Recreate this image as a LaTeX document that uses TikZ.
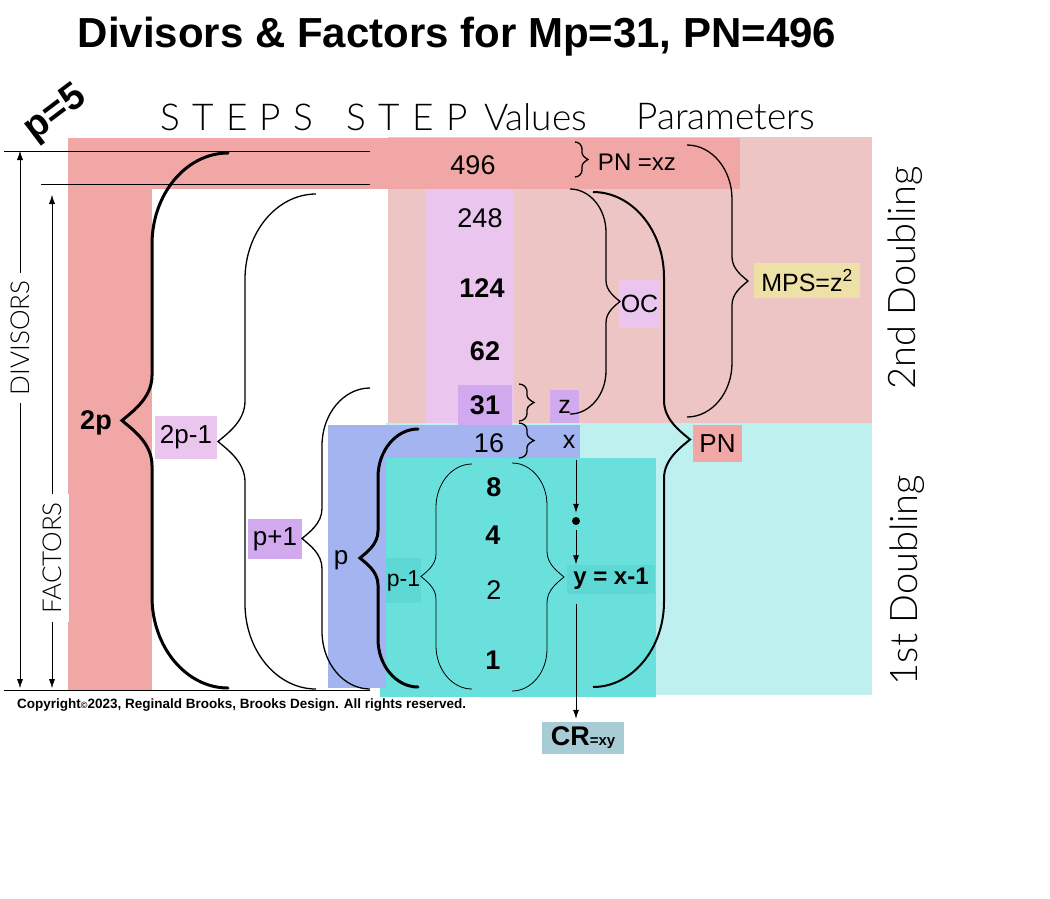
\documentclass[tikz,border=0pt]{standalone}
\usepackage{fontspec}
\setmainfont{Liberation Sans}
\newfontfamily\thinfont{Lato Light}
\usetikzlibrary{shapes,arrows.meta}

\definecolor{redband}{HTML}{F2A7A7}
\definecolor{pinkbg}{HTML}{EDC5C5}
\definecolor{cyanbg}{HTML}{BDF0EE}
\definecolor{lilac}{HTML}{EAC5EE}
\definecolor{violetbox}{HTML}{D1A9EE}
\definecolor{bluebox}{HTML}{A3B4F0}
\definecolor{tealbox}{HTML}{6AE0DC}
\definecolor{tealdark}{HTML}{5DD8D4}
\definecolor{yellowbox}{HTML}{EDE1A8}
\definecolor{crbox}{HTML}{A8CCD6}

% letter spacing for the headers
\newcommand{\ls}{\hspace{0.33em}}

% curly brace: [style] {end x}{top y}{bottom y}{spine x}{tip x}
\newcommand{\curlybrace}[6][]{%
  \pgfmathsetmacro{\bym}{(#3+#4)/2}%
  \pgfmathsetmacro{\bh}{(#4-#3)/2}%
  \pgfmathsetmacro{\bc}{min(1.2*abs(#2-#5),0.4*\bh)}%
  \pgfmathsetmacro{\bd}{min(1.5*abs(#5-#6),0.4*\bh)}%
  \pgfmathsetmacro{\bxa}{#2-0.55*(#2-#5)}%
  \pgfmathsetmacro{\bxb}{#6+0.35*(#5-#6)}%
  \draw[#1] (#2,#3) .. controls (\bxa,#3) and (#5,#3+0.45*\bc) .. (#5,#3+\bc)
    -- (#5,\bym-\bd) .. controls (#5,\bym-0.5*\bd) and (\bxb,\bym-0.2*\bd) .. (#6,\bym)
    .. controls (\bxb,\bym+0.2*\bd) and (#5,\bym+0.5*\bd) .. (#5,\bym+\bd)
    -- (#5,#4-\bc) .. controls (#5,#4-0.45*\bc) and (\bxa,#4) .. (#2,#4);
}

\begin{document}
\begin{tikzpicture}[x=1pt, y=-1pt, >={Latex[length=9pt,width=6pt]},
    val/.style={font=\fontsize{27}{27}\selectfont, inner sep=0pt},
    valb/.style={font=\bfseries\fontsize{27}{27}\selectfont, inner sep=0pt},
    lbl/.style={font=\fontsize{25}{25}\selectfont, inner sep=0pt},
    head/.style={font=\thinfont\fontsize{37}{37}\selectfont},
    side/.style={font=\thinfont\fontsize{38}{38}\selectfont, rotate=90},
    dim/.style={font=\thinfont\fontsize{26}{26}\selectfont, rotate=90, fill=white, inner sep=8pt},
    thinbrace/.style={line width=1.3pt},
    thickbrace/.style={line width=3pt, line cap=round}]

  \useasboundingbox (0,0) rectangle (1050,898);

  % Titlu si antet
  \node [font=\bfseries\fontsize{42}{42}\selectfont] (title) at (457,37) {Divisors \& Factors for Mp=31, PN=496};
  \node [font=\bfseries\fontsize{38}{38}\selectfont, rotate=37, inner sep=0pt] (pfive) at (56,114) {p=5};
  \node [head] (hsteps) at (237,117) {S\ls T\ls E\ls P\ls S};
  \node [head] (hvalues) at (467,117) {S\ls T\ls E\ls P\hspace{0.45em}Values};
  \node [head] (hparams) at (726,117) {Parameters};

  % Zone colorate
  \fill [pinkbg] (388,137) rectangle (872,423);
  \fill [cyanbg] (386,423) rectangle (872,695);
  \fill [redband] (68,138) rectangle (740,189);
  \fill [redband] (68,189) rectangle (152,690);
  \fill [lilac] (426,189) rectangle (514,423);
  \fill [tealbox] (380,458) rectangle (656,697);
  \fill [bluebox] (328,425) rectangle (580,458);
  \fill [bluebox] (328,458) rectangle (386,688);

  % Linii orizontale
  \draw (4,151) -- (370,151);
  \draw (41,184) -- (370,184);
  \draw (4,690) -- (370,690);

  % Sageti DIVISORS / FACTORS
  \coordinate (divtop) at (20,151);
  \coordinate (divbot) at (20,688);
  \coordinate (factop) at (52,195);
  \coordinate (facbot) at (52,688);
  \node [dim] (divisors) at (20,338) {DIVISORS};
  \node [dim] (factors) at (52,558) {FACTORS};
  \draw [->] (divisors) -- (divtop);
  \draw [->] (divisors) -- (divbot);
  \draw [->] (factors) -- (factop);
  \draw [->] (factors) -- (facbot);

  % Valori
  \node [val] (n496) at (473,165) {496};
  \node [val] (n248) at (480,218) {248};
  \node [valb] (n124) at (482,288) {124};
  \node [valb] (n62) at (485,351) {62};
  \node [valb, fill=violetbox, minimum width=54, minimum height=40] (n31) at (485,405) {31};
  \node [val] (n16) at (489,443) {16};
  \node [valb] (n8) at (494,487) {8};
  \node [valb] (n4) at (493,535) {4};
  \node [val] (n2) at (494,590) {2};
  \node [valb] (n1) at (493,660) {1};

  % Parametri
  \node [lbl, font=\fontsize{24}{24}\selectfont] (pnxz) at (637,162) {PN =xz};
  \node [lbl, fill=violetbox, minimum width=29, minimum height=33] (zlbl) at (564.5,406.5) {z};
  \node [lbl] (xlbl) at (569,442) {x};
  \node [lbl, fill=lilac, minimum width=41, minimum height=48] (oc) at (639.5,304) {OC};
  \node [lbl, fill=yellowbox, minimum width=106, minimum height=35] (mps) at (807,280.5) {MPS=z\textsuperscript{2}};
  \node [lbl, font=\fontsize{26}{26}\selectfont, fill=redband, minimum width=49, minimum height=37] (pn) at (717.5,443.5) {PN};
  \node [lbl, font=\bfseries\fontsize{24}{24}\selectfont, fill=tealdark, minimum width=88, minimum height=29] (ybox) at (611,579) {y = x-1};
  \node [lbl, fill=crbox, minimum width=82, minimum height=32] (crbox) at (583,738) {\bfseries\fontsize{27}{27}\selectfont CR\fontsize{15}{15}\selectfont=xy};

  % Pasi
  \node [font=\bfseries\fontsize{27}{27}\selectfont, inner sep=0pt] (l2p) at (96,423) {2p};
  \node [lbl, font=\fontsize{26}{26}\selectfont, fill=lilac, minimum width=62, minimum height=43] (l2pm) at (186,437.5) {2p-1};
  \node [lbl, font=\fontsize{26}{26}\selectfont, fill=violetbox, minimum width=54, minimum height=40] (lpp) at (275,539) {p+1};
  \node [lbl, font=\fontsize{26}{26}\selectfont] (lp) at (341,560) {p};
  \node [lbl, font=\fontsize{23}{23}\selectfont, fill=tealdark, minimum width=35, minimum height=45] (lpm) at (403.5,580.5) {p-1};

  % Acolade
  \curlybrace[thickbrace]{228}{153}{688}{152}{122}
  \curlybrace[thinbrace]{316}{194}{689}{245}{218}
  \curlybrace[thinbrace]{370}{388}{689}{322}{302}
  \curlybrace[thickbrace]{418}{429}{687}{378}{360}
  \curlybrace[line width=0.8pt]{472}{464}{689}{436}{421}
  \curlybrace[line width=0.8pt]{512}{463}{691}{547}{564}
  \curlybrace[thinbrace]{575}{142}{177}{582}{588}
  \curlybrace[thinbrace]{519}{384}{421}{527}{534}
  \curlybrace[thinbrace]{519}{423}{458}{527}{534}
  \curlybrace[thinbrace]{570}{189}{414}{606}{620}
  \curlybrace[line width=2pt]{593}{192}{687}{664}{690}
  \curlybrace[thinbrace]{687}{145}{417}{732}{748}

  % Legaturi x -> y -> CR
  \coordinate (xfoot) at (576,460);
  \node [circle, fill, inner sep=0pt, minimum size=8] (dot) at (576,521) {};
  \draw [->, thick, shorten >=4pt] (xfoot) -- (dot);
  \draw [->, thick, shorten <=5pt] (dot) -- (dot |- ybox.north);
  \draw [->, thick, shorten <=10pt, shorten >=3pt] (dot |- ybox.south) -- (dot |- crbox.north);

  % Doubling
  \node [side] (second) at (905,278) {2nd Doubling};
  \node [side] (first) at (907,580) {1st Doubling};

  % Copyright
  \node [font=\bfseries\fontsize{13.5}{14}\selectfont, anchor=west, inner sep=0pt] (copy) at (17,705) {Copyright{\fontsize{9}{9}\selectfont\textcopyright}2023, Reginald Brooks, Brooks Design. All rights reserved.};

\end{tikzpicture}
\end{document}
